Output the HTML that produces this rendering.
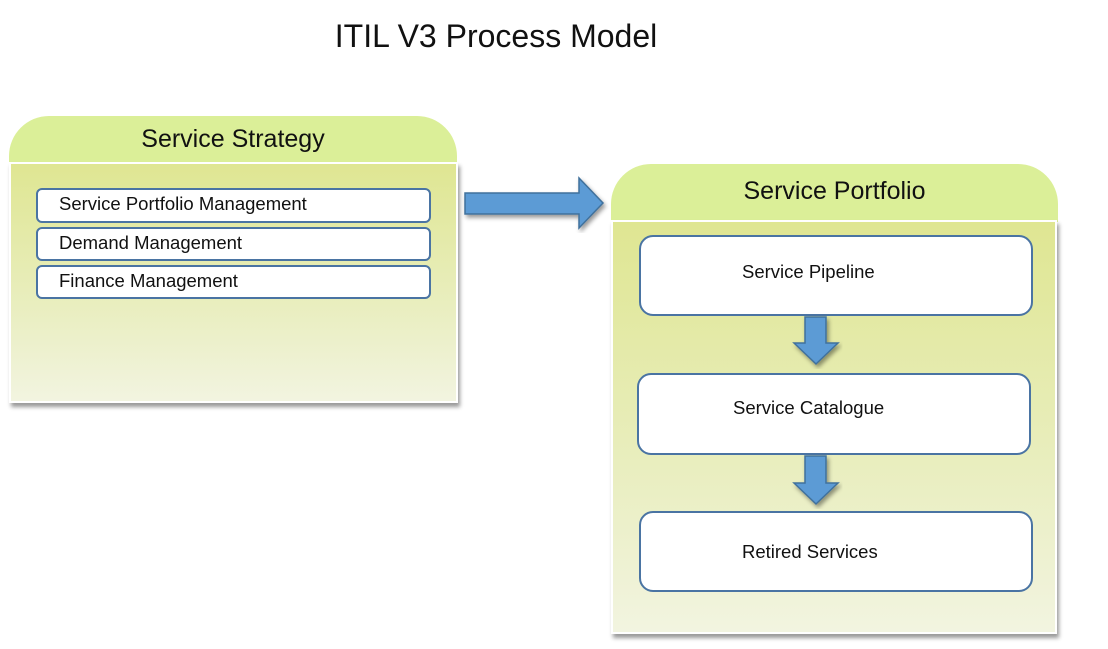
<!DOCTYPE html>
<html><head><style>
body{margin:0;width:1108px;height:649px;background:#fff;position:relative;overflow:hidden;font-family:"Liberation Sans",sans-serif;}
.a{position:absolute;box-sizing:border-box;}
.tab{background:#dbef98;border-radius:40px 40px 0 0;text-align:center;color:#111;}
.body{background:linear-gradient(#dfe692,#e9eebf 60%,#f2f4e0);border:2px solid #fff;box-shadow:2px 4px 4px rgba(0,0,0,0.4);}
.it{background:#fff;border:2px solid #4a74a3;border-radius:6px;font-size:18.5px;color:#111;padding-left:21px;line-height:27px;}
.bx{background:#fff;border:2px solid #4a74a3;border-radius:14px;font-size:18.5px;color:#111;}
</style></head><body>
<div class="a" style="left:0;width:992px;top:18px;text-align:center;font-size:32px;color:#111;">ITIL V3 Process Model</div>

<div class="a tab" style="left:9px;top:116px;width:448px;height:47px;font-size:25px;line-height:46px;">Service Strategy</div>
<div class="a body" style="left:9px;top:162px;width:449px;height:241px;"></div>
<div class="a it" style="left:36px;top:188px;width:395px;height:35px;">Service Portfolio Management</div>
<div class="a it" style="left:36px;top:227px;width:395px;height:34px;">Demand Management</div>
<div class="a it" style="left:36px;top:265px;width:395px;height:34px;">Finance Management</div>

<svg class="a" style="left:0;top:0" width="1108" height="649">
<defs><filter id="s"><feDropShadow dx="2" dy="3" stdDeviation="2" flood-opacity="0.4"/></filter></defs>
<polygon filter="url(#s)" points="465,193 579,193 579,178 603,203 579,228 579,214 465,214" fill="#5b9bd5" stroke="#41719c" stroke-width="1.5"/>
</svg>

<div class="a tab" style="left:611px;top:164px;width:447px;height:58px;font-size:25px;line-height:54px;">Service Portfolio</div>
<div class="a body" style="left:611px;top:220px;width:446px;height:414px;"></div>
<div class="a bx" style="left:639px;top:235px;width:394px;height:81px;"><div style="position:absolute;left:101px;top:24px;">Service Pipeline</div></div>
<div class="a bx" style="left:637px;top:373px;width:394px;height:82px;"><div style="position:absolute;left:94px;top:22px;">Service Catalogue</div></div>
<div class="a bx" style="left:639px;top:511px;width:394px;height:81px;"><div style="position:absolute;left:101px;top:28px;">Retired Services</div></div>

<svg class="a" style="left:0;top:0" width="1108" height="649">
<defs><filter id="s2"><feDropShadow dx="2" dy="3" stdDeviation="2" flood-opacity="0.4"/></filter></defs>
<polygon filter="url(#s2)" points="805,317 826,317 826,343 838,343 816,364 794,343 805,343" fill="#5b9bd5" stroke="#41719c" stroke-width="1.5"/>
<polygon filter="url(#s2)" points="805,456 826,456 826,483 838,483 816,504 794,483 805,483" fill="#5b9bd5" stroke="#41719c" stroke-width="1.5"/>
</svg>
</body></html>
